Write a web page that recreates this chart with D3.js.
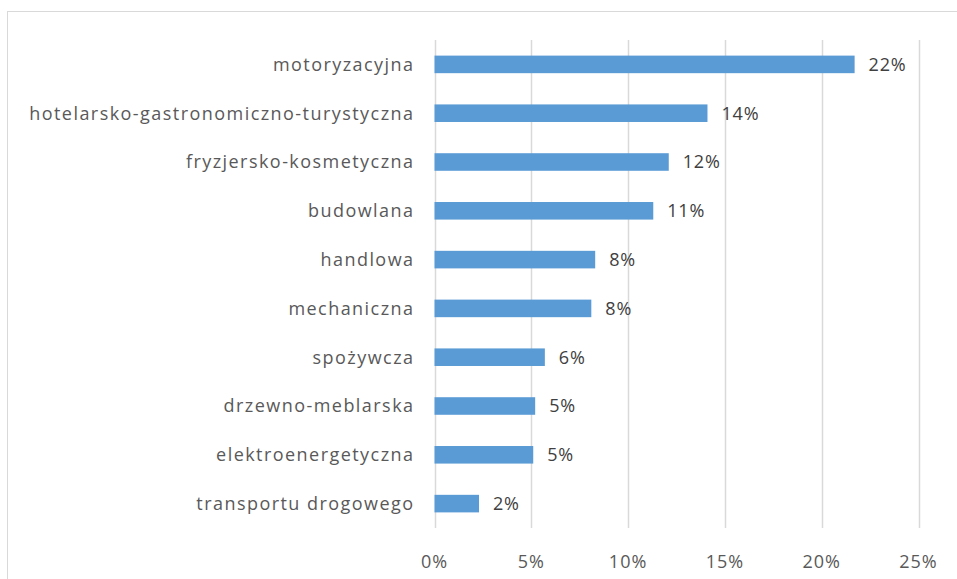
<!DOCTYPE html>
<html>
<head>
<meta charset="utf-8">
<script src="https://cdn.jsdelivr.net/npm/d3@7"></script>
<style>
  body { margin: 0; background: #fff; }
  text { font-family: "Open Sans", sans-serif; }
</style>
</head>
<body>
<svg id="chart" width="957" height="579"></svg>
<script>
const categories = [
    "motoryzacyjna",
    "hotelarsko-gastronomiczno-turystyczna",
    "fryzjersko-kosmetyczna",
    "budowlana",
    "handlowa",
    "mechaniczna",
    "spożywcza",
    "drzewno-meblarska",
    "elektroenergetyczna",
    "transportu drogowego"
];
const values = [21.7, 14.1, 12.1, 11.3, 8.3, 8.1, 5.7, 5.2, 5.1, 2.3];
const xTicks = [0, 5, 10, 15, 20, 25];

const svg = d3.select("#chart");
const plotLeft = 434.5, plotRight = 918.5, plotTop = 40, plotBottom = 528;

// chart frame
svg.append("rect")
    .attr("x", 7.5).attr("y", 11.5)
    .attr("width", 1000).attr("height", 1000)
    .attr("fill", "none")
    .attr("stroke", "#d9d9d9");

const x = d3.scaleLinear().domain([0, 25]).range([plotLeft, plotRight]);
const y = d3.scaleBand().domain(categories).range([plotTop, plotBottom])
    .paddingInner(0.64).paddingOuter(0.32);

// gridlines
svg.append("g").selectAll("line")
    .data(xTicks)
    .enter().append("line")
    .attr("x1", d => Math.round(x(d)) + 0.5)
    .attr("x2", d => Math.round(x(d)) + 0.5)
    .attr("y1", plotTop).attr("y2", plotBottom)
    .attr("stroke", "#d9d9d9")
    .attr("stroke-width", 1.5);

// bars
svg.append("g").selectAll("rect")
    .data(values)
    .enter().append("rect")
    .attr("x", x(0))
    .attr("y", (d, i) => y(categories[i]))
    .attr("width", d => x(d) - x(0))
    .attr("height", y.bandwidth())
    .attr("fill", "#5b9bd5");

// data labels
svg.append("g").selectAll("text")
    .data(values)
    .enter().append("text")
    .attr("x", d => x(d) + 14)
    .attr("y", (d, i) => y(categories[i]) + y.bandwidth() / 2)
    .attr("dy", "0.36em")
    .attr("fill", "#404040")
    .style("font-size", "18px")
    .style("letter-spacing", "0.8px")
    .text(d => Math.round(d) + "%");

// category labels
svg.append("g").selectAll("text")
    .data(categories)
    .enter().append("text")
    .attr("x", 414.5)
    .attr("y", d => y(d) + y.bandwidth() / 2)
    .attr("dy", "0.36em")
    .attr("text-anchor", "end")
    .attr("fill", "#595959")
    .style("font-size", "18px")
    .style("letter-spacing", "1.45px")
    .text(d => d);

// x axis labels
svg.append("g").selectAll("text")
    .data(xTicks)
    .enter().append("text")
    .attr("x", d => x(d))
    .attr("y", 562)
    .attr("dy", "0.36em")
    .attr("text-anchor", "middle")
    .attr("fill", "#595959")
    .style("font-size", "18px")
    .style("letter-spacing", "1px")
    .text(d => d + "%");
</script>
</body>
</html>
